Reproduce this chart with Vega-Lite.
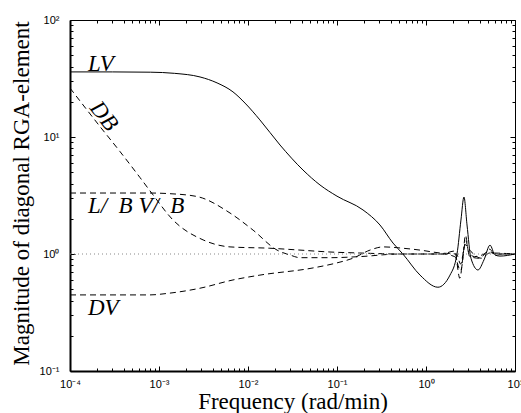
{
  "$schema": "https://vega.github.io/schema/vega-lite/v6.json",
  "width": 445,
  "height": 351,
  "autosize": "none",
  "padding": {"left": 70, "top": 20, "right": 6, "bottom": 42},
  "background": "white",
  "config": {
    "view": {"stroke": null},
    "axis": {
      "grid": false,
      "labelFont": "Liberation Sans",
      "labelFontSize": 11,
      "labelColor": "black",
      "tickColor": "black",
      "domainColor": "black",
      "titleFont": "Liberation Serif",
      "titleFontSize": 23,
      "titleFontWeight": "normal",
      "titleColor": "black"
    }
  },
  "datasets": {
    "curves": [
      {"s": "LV", "x": 0.0001, "y": 36},
      {"s": "LV", "x": 0.0003, "y": 36},
      {"s": "LV", "x": 0.0008, "y": 35.8},
      {"s": "LV", "x": 0.0015, "y": 35},
      {"s": "LV", "x": 0.00289, "y": 32.6},
      {"s": "LV", "x": 0.00449, "y": 29.0},
      {"s": "LV", "x": 0.00678, "y": 24.3},
      {"s": "LV", "x": 0.00925, "y": 19.5},
      {"s": "LV", "x": 0.0136, "y": 14.0},
      {"s": "LV", "x": 0.0229, "y": 8.54},
      {"s": "LV", "x": 0.0415, "y": 5.22},
      {"s": "LV", "x": 0.0644, "y": 3.89},
      {"s": "LV", "x": 0.1, "y": 3.12},
      {"s": "LV", "x": 0.196, "y": 2.38},
      {"s": "LV", "x": 0.304, "y": 1.77},
      {"s": "LV", "x": 0.426, "y": 1.24},
      {"s": "LV", "x": 0.55, "y": 1.0},
      {"s": "LV", "x": 0.857, "y": 0.66},
      {"s": "LV", "x": 1.36, "y": 0.52},
      {"s": "LV", "x": 1.86, "y": 0.66},
      {"s": "LV", "x": 2.23, "y": 1.0},
      {"s": "LV", "x": 2.47, "y": 1.95},
      {"s": "LV", "x": 2.67, "y": 3.07},
      {"s": "LV", "x": 2.89, "y": 1.77},
      {"s": "LV", "x": 3.2, "y": 0.92},
      {"s": "LV", "x": 3.84, "y": 0.73},
      {"s": "LV", "x": 4.48, "y": 0.89},
      {"s": "LV", "x": 5.24, "y": 1.19},
      {"s": "LV", "x": 5.96, "y": 0.98},
      {"s": "LV", "x": 6.78, "y": 0.96},
      {"s": "LV", "x": 10, "y": 1.0},

      {"s": "DB", "x": 0.0001, "y": 26.2},
      {"s": "DB", "x": 0.000217, "y": 12.3},
      {"s": "DB", "x": 0.000365, "y": 7.5},
      {"s": "DB", "x": 0.000612, "y": 4.5},
      {"s": "DB", "x": 0.000857, "y": 3.2},
      {"s": "DB", "x": 0.00144, "y": 1.95},
      {"s": "DB", "x": 0.00313, "y": 1.32},
      {"s": "DB", "x": 0.00628, "y": 1.15},
      {"s": "DB", "x": 0.0176, "y": 1.12},
      {"s": "DB", "x": 0.0384, "y": 1.08},
      {"s": "DB", "x": 0.0834, "y": 1.04},
      {"s": "DB", "x": 0.18, "y": 1.02},
      {"s": "DB", "x": 0.5, "y": 1.0},
      {"s": "DB", "x": 1.5, "y": 1.0},
      {"s": "DB", "x": 2.1, "y": 1.06},
      {"s": "DB", "x": 2.4, "y": 0.62},
      {"s": "DB", "x": 2.6, "y": 0.95},
      {"s": "DB", "x": 2.78, "y": 1.45},
      {"s": "DB", "x": 3.0, "y": 1.05},
      {"s": "DB", "x": 3.5, "y": 0.95},
      {"s": "DB", "x": 4.5, "y": 1.0},
      {"s": "DB", "x": 5.2, "y": 1.1},
      {"s": "DB", "x": 6, "y": 0.97},
      {"s": "DB", "x": 7, "y": 1.0},
      {"s": "DB", "x": 10, "y": 1.0},

      {"s": "LBVB", "x": 0.0001, "y": 3.32},
      {"s": "LBVB", "x": 0.00079, "y": 3.32},
      {"s": "LBVB", "x": 0.0013, "y": 3.28},
      {"s": "LBVB", "x": 0.00267, "y": 3.1},
      {"s": "LBVB", "x": 0.00628, "y": 2.24},
      {"s": "LBVB", "x": 0.0114, "y": 1.6},
      {"s": "LBVB", "x": 0.0212, "y": 1.08},
      {"s": "LBVB", "x": 0.0297, "y": 0.98},
      {"s": "LBVB", "x": 0.0384, "y": 0.93},
      {"s": "LBVB", "x": 0.0834, "y": 0.93},
      {"s": "LBVB", "x": 0.181, "y": 0.95},
      {"s": "LBVB", "x": 0.51, "y": 1.0},
      {"s": "LBVB", "x": 1.5, "y": 1.0},
      {"s": "LBVB", "x": 2.1, "y": 0.95},
      {"s": "LBVB", "x": 2.45, "y": 0.72},
      {"s": "LBVB", "x": 2.8, "y": 1.3},
      {"s": "LBVB", "x": 3.1, "y": 0.95},
      {"s": "LBVB", "x": 4.0, "y": 0.92},
      {"s": "LBVB", "x": 5.0, "y": 1.05},
      {"s": "LBVB", "x": 6, "y": 1.0},
      {"s": "LBVB", "x": 10, "y": 1.0},

      {"s": "DV", "x": 0.0001, "y": 0.447},
      {"s": "DV", "x": 0.00079, "y": 0.447},
      {"s": "DV", "x": 0.00123, "y": 0.46},
      {"s": "DV", "x": 0.00289, "y": 0.51},
      {"s": "DV", "x": 0.00678, "y": 0.6},
      {"s": "DV", "x": 0.0136, "y": 0.66},
      {"s": "DV", "x": 0.0537, "y": 0.76},
      {"s": "DV", "x": 0.1, "y": 0.84},
      {"s": "DV", "x": 0.151, "y": 0.92},
      {"s": "DV", "x": 0.235, "y": 1.08},
      {"s": "DV", "x": 0.329, "y": 1.15},
      {"s": "DV", "x": 0.55, "y": 1.12},
      {"s": "DV", "x": 0.857, "y": 1.08},
      {"s": "DV", "x": 1.44, "y": 1.02},
      {"s": "DV", "x": 2.2, "y": 1.0},
      {"s": "DV", "x": 2.45, "y": 0.82},
      {"s": "DV", "x": 2.75, "y": 1.2},
      {"s": "DV", "x": 3.2, "y": 1.05},
      {"s": "DV", "x": 4.2, "y": 0.92},
      {"s": "DV", "x": 5.2, "y": 1.02},
      {"s": "DV", "x": 10, "y": 1.0}
    ],
    "ref": [
      {"x": 0.0001, "y": 1},
      {"x": 10, "y": 1}
    ],
    "labels": [
      {"t": "LV", "x": 0.000159, "y": 36.3},
      {"t": "L/\u2002B V/\u2002B", "x": 0.000159, "y": 2.24},
      {"t": "DV", "x": 0.000159, "y": 0.3}
    ],
    "rot": [
      {"t": "DB", "x": 0.000241, "y": 15.1}
    ]
  },
  "layer": [
    {
      "data": {"name": "curves"},
      "transform": [{"filter": "datum.s === 'LV'"}],
      "mark": {"type": "line", "color": "black", "strokeWidth": 1, "interpolate": "monotone", "clip": true},
      "encoding": {
        "x": {
          "field": "x", "type": "quantitative",
          "scale": {"type": "log", "domain": [0.0001, 10], "nice": false},
          "axis": {
            "orient": "bottom",
            "values": [0.0001, 0.001, 0.01, 0.1, 1, 10],
            "labelExpr": "datum.value < 0.0005 ? '10⁻⁴' : datum.value < 0.005 ? '10⁻³' : datum.value < 0.05 ? '10⁻²' : datum.value < 0.5 ? '10⁻¹' : datum.value < 5 ? '10⁰' : '10¹'",
            "tickSize": -5,
            "labelPadding": 12,
            "labelBaseline": "top",
            "labelFlush": false,
            "labelOverlap": false,
            "domainWidth": 2,
            "title": "Frequency (rad/min)",
            "titleX": 222.5,
            "titleY": 37,
            "titleAlign": "center",
            "titleBaseline": "alphabetic"
          }
        },
        "y": {
          "field": "y", "type": "quantitative",
          "scale": {"type": "log", "domain": [0.1, 100], "nice": false},
          "axis": {
            "orient": "left",
            "values": [0.1, 1, 10, 100],
            "labelExpr": "datum.value < 0.5 ? '10⁻¹' : datum.value < 5 ? '10⁰' : datum.value < 50 ? '10¹' : '10²'",
            "tickSize": -5,
            "labelPadding": 16,
            "labelAlign": "right",
            "labelBaseline": "middle",
            "labelFlush": false,
            "labelOverlap": false,
            "domainWidth": 2,
            "title": "Magnitude of diagonal RGA-element",
            "titleAngle": -90,
            "titleX": -42,
            "titleY": 173,
            "titleAlign": "center",
            "titleBaseline": "alphabetic"
          }
        }
      }
    },
    {
      "data": {"name": "curves"},
      "transform": [{"filter": "datum.s !== 'LV'"}],
      "mark": {"type": "line", "color": "black", "strokeWidth": 1, "strokeDash": [6, 4], "interpolate": "monotone", "clip": true},
      "encoding": {
        "detail": {"field": "s"},
        "x": {
          "field": "x", "type": "quantitative",
          "axis": {
            "orient": "bottom",
            "values": [0.0002, 0.0003, 0.0004, 0.0005, 0.0006, 0.0007, 0.0008, 0.0009, 0.002, 0.003, 0.004, 0.005, 0.006, 0.007, 0.008, 0.009, 0.02, 0.03, 0.04, 0.05, 0.06, 0.07, 0.08, 0.09, 0.2, 0.3, 0.4, 0.5, 0.6, 0.7, 0.8, 0.9, 2, 3, 4, 5, 6, 7, 8, 9],
            "labels": false, "domain": false, "tickSize": -3, "title": null
          }
        },
        "y": {
          "field": "y", "type": "quantitative",
          "axis": {
            "orient": "left",
            "values": [0.2, 0.3, 0.4, 0.5, 0.6, 0.7, 0.8, 0.9, 2, 3, 4, 5, 6, 7, 8, 9, 20, 30, 40, 50, 60, 70, 80, 90],
            "labels": false, "domain": false, "tickSize": -3, "title": null
          }
        }
      }
    },
    {
      "data": {"name": "ref"},
      "mark": {"type": "line", "color": "#888888", "strokeWidth": 1, "strokeDash": [1, 3]},
      "encoding": {
        "x": {
          "field": "x", "type": "quantitative",
          "axis": {
            "orient": "top",
            "values": [0.0001, 0.001, 0.01, 0.1, 1, 10],
            "labels": false, "domainWidth": 1, "tickSize": -5, "title": null
          }
        },
        "y": {
          "field": "y", "type": "quantitative",
          "axis": {
            "orient": "right",
            "values": [0.1, 1, 10, 100],
            "labels": false, "domainWidth": 1, "tickSize": -5, "title": null
          }
        }
      }
    },
    {
      "data": {"name": "labels"},
      "mark": {"type": "text", "font": "Liberation Serif", "fontStyle": "italic", "fontSize": 23, "align": "left", "baseline": "alphabetic", "color": "black"},
      "encoding": {
        "text": {"field": "t"},
        "x": {
          "field": "x", "type": "quantitative",
          "axis": {
            "orient": "top",
            "values": [0.0002, 0.0003, 0.0004, 0.0005, 0.0006, 0.0007, 0.0008, 0.0009, 0.002, 0.003, 0.004, 0.005, 0.006, 0.007, 0.008, 0.009, 0.02, 0.03, 0.04, 0.05, 0.06, 0.07, 0.08, 0.09, 0.2, 0.3, 0.4, 0.5, 0.6, 0.7, 0.8, 0.9, 2, 3, 4, 5, 6, 7, 8, 9],
            "labels": false, "domain": false, "tickSize": -3, "title": null
          }
        },
        "y": {
          "field": "y", "type": "quantitative",
          "axis": {
            "orient": "right",
            "values": [0.2, 0.3, 0.4, 0.5, 0.6, 0.7, 0.8, 0.9, 2, 3, 4, 5, 6, 7, 8, 9, 20, 30, 40, 50, 60, 70, 80, 90],
            "labels": false, "domain": false, "tickSize": -3, "title": null
          }
        }
      }
    },
    {
      "data": {"name": "rot"},
      "mark": {"type": "text", "font": "Liberation Serif", "fontStyle": "italic", "fontSize": 23, "align": "center", "baseline": "middle", "angle": 52, "color": "black"},
      "encoding": {
        "text": {"field": "t"},
        "x": {"field": "x", "type": "quantitative", "axis": null},
        "y": {"field": "y", "type": "quantitative", "axis": null}
      }
    }
  ],
  "resolve": {"axis": {"x": "independent", "y": "independent"}}
}
